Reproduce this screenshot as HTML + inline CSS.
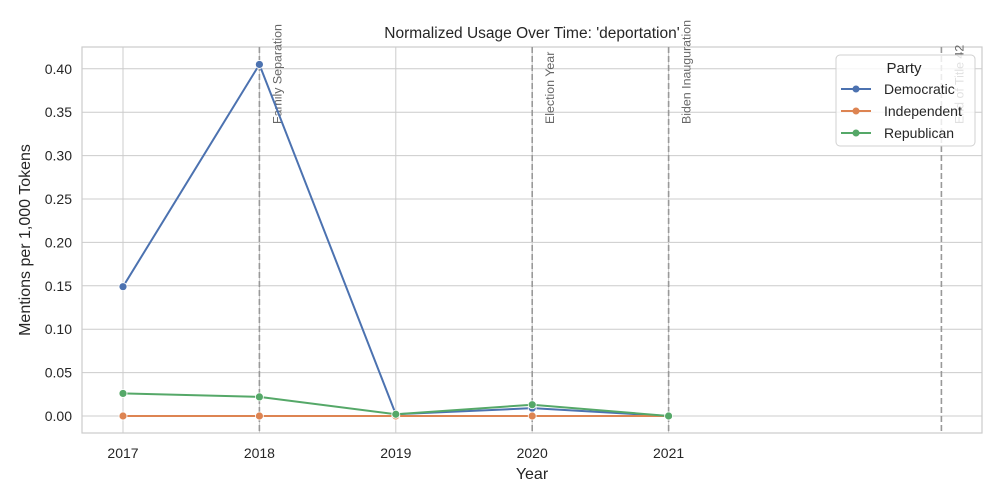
<!DOCTYPE html>
<html><head><meta charset="utf-8">
<style>
html,body{margin:0;padding:0;background:#fff;}
svg{display:block;font-family:"Liberation Sans","DejaVu Sans",sans-serif;}
</style></head>
<body>
<svg id="chart" width="1000" height="500" xmlns="http://www.w3.org/2000/svg"></svg>
<script>
const years = [2017, 2018, 2019, 2020, 2021];
const democratic = [0.149, 0.405, 0.002, 0.009, 0.0];
const independent = [0.0, 0.0, 0.0, 0.0, 0.0];
const republican = [0.026, 0.022, 0.002, 0.013, 0.0];
const yTicks = [0, 0.05, 0.10, 0.15, 0.20, 0.25, 0.30, 0.35, 0.40];
const xTicks = [2017, 2018, 2019, 2020, 2021];
const eventYears = [2018, 2020, 2021, 2023];
const eventLabels = ["Family Separation", "Election Year", "Biden Inauguration", "End of Title 42"];

const L=82,R=982,T=47,B=433;
const xs = y => 123 + (y-2017)*136.4;
const ys = v => 416 - v*868;
const NS="http://www.w3.org/2000/svg";
const svg=document.getElementById('chart');
function mk(tag,attrs,parent){const e=document.createElementNS(NS,tag);for(const k in attrs)e.setAttribute(k,attrs[k]);(parent||svg).appendChild(e);return e;}

yTicks.forEach(v=>{
  const g=mk('line',{x1:L,x2:R,y1:ys(v),y2:ys(v),stroke:'#cccccc','stroke-width':1});
  
  
  const t=mk('text',{x:L-10,y:ys(v)+5,'text-anchor':'end','font-size':14,fill:'#262626'});
  t.textContent=v.toFixed(2);
  
  
});
xTicks.forEach(yr=>{
  const g=mk('line',{x1:xs(yr),x2:xs(yr),y1:T,y2:B,stroke:'#cccccc','stroke-width':1});
  
  
  const t=mk('text',{x:xs(yr),y:B+25,'text-anchor':'middle','font-size':14,fill:'#262626'});
  t.textContent=yr;
  
  
});
const frame=mk('rect',{x:L,y:T,width:R-L,height:B-T,fill:'none',stroke:'#cccccc','stroke-width':1.2});



eventYears.forEach((yr,i)=>{
  const l=mk('line',{x1:xs(yr),x2:xs(yr),y1:T,y2:B,stroke:'#999','stroke-width':1.6,'stroke-dasharray':'6,3'});
  
  
  const tx=xs(yr)+22, ty=124;
  const t=mk('text',{x:tx,y:ty,transform:`rotate(-90 ${tx} ${ty})`,'font-size':12.4,fill:'#666'});
  t.textContent=eventLabels[i];
  
  
});

const series=[["democratic",democratic,"#4c72b0"],["independent",independent,"#dd8452"],["republican",republican,"#55a868"]];
series.forEach(([name,vals,c])=>{
  const p=mk('polyline',{points:vals.map((v,i)=>xs(years[i])+','+ys(v)).join(' '),fill:'none',stroke:c,'stroke-width':2});
  
  
  vals.forEach((v,i)=>{
    const m=mk('circle',{cx:xs(years[i]),cy:ys(v),r:4,fill:c,stroke:'#fff','stroke-width':0.8});
    
    
  });
});

let t=mk('text',{x:532,y:38,'text-anchor':'middle','font-size':15.5,fill:'#262626'});
t.textContent="Normalized Usage Over Time: 'deportation'";


t=mk('text',{x:532,y:479,'text-anchor':'middle','font-size':16,fill:'#262626'});
t.textContent="Year";


t=mk('text',{x:30,y:240,'text-anchor':'middle','font-size':16,fill:'#262626',transform:'rotate(-90 30 240)'});
t.textContent="Mentions per 1,000 Tokens";



const lg=mk('g',{});


mk('rect',{x:836,y:55,width:139,height:91,rx:4,fill:'#fff','fill-opacity':0.8,stroke:'#d0d0d0'},lg);
t=mk('text',{x:904,y:73,'text-anchor':'middle','font-size':15,fill:'#262626'},lg);
t.textContent="Party";


[["Democratic","#4c72b0"],["Independent","#dd8452"],["Republican","#55a868"]].forEach(([n,c],i)=>{
  const y=89+i*22;
  const e=mk('g',{},lg);
  
  
  mk('line',{x1:841,x2:871,y1:y,y2:y,stroke:c,'stroke-width':2},e);
  mk('circle',{cx:856,cy:y,r:3.5,fill:c},e);
  const tt=mk('text',{x:884,y:y+5,'font-size':14,fill:'#262626'},e);
  tt.textContent=n;
});
</script>
</body></html>
